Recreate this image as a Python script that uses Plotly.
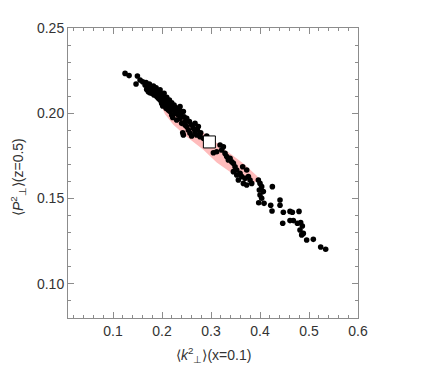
import plotly.graph_objects as go

# scatter points: <k_perp^2>(x=0.1), <P_perp^2>(z=0.5)
k2 = [0.1245, 0.1327, 0.1497, 0.1469, 0.1551, 0.1605, 0.1653, 0.1701, 0.1755, 0.1823,
      0.1857, 0.1789, 0.1891, 0.1721, 0.1959, 0.1925, 0.2027, 0.1993, 0.2061, 0.2095,
      0.2163, 0.2129, 0.2231, 0.2265, 0.2197, 0.2333, 0.2367, 0.2435, 0.2299, 0.2401,
      0.2469, 0.2503, 0.2537, 0.2605, 0.2639, 0.2673, 0.2571, 0.2707, 0.2776, 0.2844,
      0.2422, 0.2435, 0.2605,
      0.3048, 0.3116, 0.3184, 0.3252, 0.3218, 0.3286, 0.3320, 0.3354, 0.3422, 0.3456,
      0.3388, 0.3490, 0.3524, 0.3456, 0.3592, 0.3626, 0.3524, 0.3558, 0.3660, 0.3728,
      0.3796, 0.3830, 0.3694, 0.3762, 0.3646, 0.3728, 0.3966, 0.4000, 0.4034, 0.3986,
      0.4068, 0.4034, 0.3973, 0.4082, 0.4252, 0.4218, 0.4245, 0.4408, 0.4408, 0.4476,
      0.4463, 0.4612, 0.4660, 0.4796, 0.4612, 0.4680, 0.4762, 0.4830, 0.4864, 0.4816,
      0.4884, 0.4952, 0.4850, 0.5088, 0.5238, 0.5340, 0.4000,
      0.1673, 0.1741, 0.1810, 0.1878, 0.1946, 0.1993, 0.2041, 0.2095, 0.2150, 0.2197,
      0.2245, 0.2299, 0.2354, 0.2265, 0.2082, 0.2163, 0.1959, 0.1891, 0.1837, 0.1755,
      0.1687, 0.2014, 0.2218, 0.2313, 0.2381, 0.2449, 0.2503, 0.2558, 0.2469, 0.2721,
      0.2789, 0.2912, 0.2673, 0.2741, 0.1959, 0.2027, 0.2129, 0.2197, 0.2367]
p2 = [0.2234, 0.2221, 0.2219, 0.2172, 0.2195, 0.2185, 0.2166, 0.2156, 0.2146, 0.2160,
      0.2137, 0.2117, 0.2117, 0.2127, 0.2107, 0.2088, 0.2082, 0.2058, 0.2068, 0.2049,
      0.2039, 0.2019, 0.2019, 0.2000, 0.1990, 0.1990, 0.1970, 0.2010, 0.1961, 0.1941,
      0.1951, 0.1922, 0.1902, 0.1931, 0.1912, 0.1892, 0.1883, 0.1873, 0.1863, 0.1853,
      0.1886, 0.1873, 0.1867,
      0.1769, 0.1775, 0.1814, 0.1804, 0.1785, 0.1765, 0.1746, 0.1726, 0.1716, 0.1707,
      0.1736, 0.1687, 0.1668, 0.1658, 0.1648, 0.1629, 0.1638, 0.1609, 0.1589, 0.1580,
      0.1609, 0.1589, 0.1619, 0.1629, 0.1687, 0.1668, 0.1609, 0.1589, 0.1570, 0.1550,
      0.1541, 0.1502, 0.1476, 0.1472, 0.1570, 0.1461, 0.1427, 0.1492, 0.1461, 0.1420,
      0.1355, 0.1425, 0.1420, 0.1425, 0.1371, 0.1371, 0.1355, 0.1359, 0.1339, 0.1316,
      0.1296, 0.1257, 0.1287, 0.1261, 0.1216, 0.1203, 0.1521,
      0.2180, 0.2172, 0.2140, 0.2150, 0.2127, 0.2101, 0.2117, 0.2094, 0.2078, 0.2062,
      0.2049, 0.2029, 0.2019, 0.2035, 0.2029, 0.2010, 0.2078, 0.2098, 0.2107, 0.2121,
      0.2140, 0.2043, 0.1976, 0.2010, 0.1996, 0.1980, 0.1970, 0.1951, 0.1931, 0.1902,
      0.1886, 0.1867, 0.1941, 0.1922, 0.2137, 0.2107, 0.2058, 0.2029, 0.2039]

# uncertainty band outline
band_k2 = [0.1959, 0.2299, 0.2633, 0.2980, 0.3327, 0.3660, 0.3939, 0.3980, 0.3857,
           0.3449, 0.3116, 0.2837, 0.2503, 0.2231, 0.2061, 0.1959, 0.1925]
band_p2 = [0.2094, 0.2019, 0.1931, 0.1858, 0.1778, 0.1705, 0.1632, 0.1613, 0.1588,
           0.1644, 0.1712, 0.1788, 0.1862, 0.1933, 0.1995, 0.2058, 0.2082]

# central value
center_k2 = [0.2966]
center_p2 = [0.1832]

x_ticks = [0.1, 0.2, 0.3, 0.4, 0.5, 0.6]
x_ticktext = ["0.1", "0.2", "0.3", "0.4", "0.5", "0.6"]
y_ticks = [0.10, 0.15, 0.20, 0.25]
y_ticktext = ["0.10", "0.15", "0.20", "0.25"]

font_family = "Liberation Sans"
text_color = "#333333"
frame_color = "#8c8c8c"

fig = go.Figure()
fig.add_trace(go.Scatter(x=band_k2, y=band_p2, fill="toself", mode="lines",
                         line=dict(width=0), fillcolor="rgb(255,188,188)",
                         hoverinfo="skip", showlegend=False))
fig.add_trace(go.Scatter(x=k2, y=p2, mode="markers",
                         marker=dict(color="black", size=5.6, line=dict(width=0)),
                         showlegend=False))
fig.add_trace(go.Scatter(x=center_k2, y=center_p2, mode="markers",
                         marker=dict(symbol="square", color="white", size=12,
                                     line=dict(color="black", width=1)),
                         showlegend=False))

axis_common = dict(showgrid=False, zeroline=False, showline=True, linecolor=frame_color,
                   linewidth=1, mirror="ticks", ticks="inside", ticklen=6,
                   tickcolor=frame_color, automargin=False,
                   tickfont=dict(size=14, color=text_color, family=font_family))
fig.update_xaxes(range=[0.008, 0.6], tickvals=x_ticks, ticktext=x_ticktext,
                 minor=dict(ticks="inside", ticklen=3, dtick=0.02, tick0=0,
                            tickcolor=frame_color),
                 **axis_common)
fig.update_yaxes(range=[0.08, 0.25], tickvals=y_ticks, ticktext=y_ticktext,
                 minor=dict(ticks="inside", ticklen=3, dtick=0.01, tick0=0,
                            tickcolor=frame_color),
                 **axis_common)
fig.add_annotation(text="⟨<i>k</i><sup>2</sup><sub>⊥</sub>⟩(x=0.1)",
                   xref="paper", yref="paper", x=0.5, y=0, xanchor="center",
                   yanchor="middle", yshift=-37, showarrow=False,
                   font=dict(size=14, color=text_color, family=font_family))
fig.add_annotation(text="⟨<i>P</i><sup>2</sup><sub>⊥</sub>⟩(z=0.5)",
                   xref="paper", yref="paper", x=0, y=0.5, xanchor="center",
                   yanchor="middle", xshift=-50, yshift=-4, textangle=-90,
                   showarrow=False,
                   font=dict(size=14, color=text_color, family=font_family))
fig.update_layout(width=428, height=364, margin=dict(l=60, r=78, t=20, b=54),
                  plot_bgcolor="white", paper_bgcolor="white")
fig.write_html("out.html")
